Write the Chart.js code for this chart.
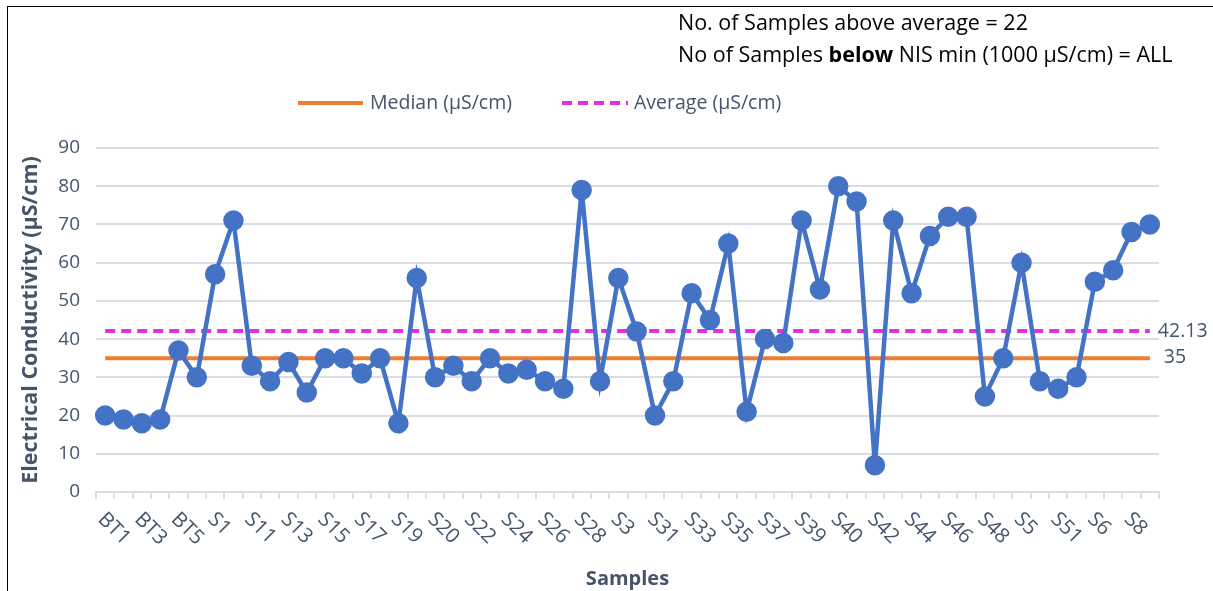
<!DOCTYPE html>
<html lang="en">
<head>
    <meta charset="UTF-8">
    <title>Electrical Conductivity</title>
    <script src="https://cdn.jsdelivr.net/npm/chart.js"></script>
    <style>
        html, body {
            margin: 0;
            padding: 0;
            background: #fff;
        }
        .frame {
            position: absolute;
            left: 7px;
            top: 6px;
            right: 0;
            bottom: 0;
            border-left: 1px solid #000;
            border-top: 1px solid #000;
        }
        .wrap {
            position: absolute;
            left: 0;
            top: 0;
            width: 1213px;
            height: 591px;
        }
    </style>
</head>
<body>
<div class="frame"></div>
<div class="wrap">
    <canvas id="ec-chart" width="1213" height="591"></canvas>
</div>

<script>
    const samples = [
        'BT1', 'BT2', 'BT3', 'BT4', 'BT5', 'BT6', 'S1', 'S10', 'S11', 'S12',
        'S13', 'S14', 'S15', 'S16', 'S17', 'S18', 'S19', 'S2', 'S20', 'S21',
        'S22', 'S23', 'S24', 'S25', 'S26', 'S27', 'S28', 'S29', 'S3', 'S30',
        'S31', 'S32', 'S33', 'S34', 'S35', 'S36', 'S37', 'S38', 'S39', 'S4',
        'S40', 'S41', 'S42', 'S43', 'S44', 'S45', 'S46', 'S47', 'S48', 'S49',
        'S5', 'S50', 'S51', 'S52', 'S6', 'S7', 'S8', 'S9'
    ];
    const conductivity = [
        20, 19, 18, 19, 37, 30, 57, 71, 33, 29,
        34, 26, 35, 35, 31, 35, 18, 56, 30, 33,
        29, 35, 31, 32, 29, 27, 79, 29, 56, 42,
        20, 29, 52, 45, 65, 21, 40, 39, 71, 53,
        80, 76, 7, 71, 52, 67, 72, 72, 25, 35,
        60, 29, 27, 30, 55, 58, 68, 70
    ];
    const median = 35;
    const average = 42.13;
    const yTicks = [0, 10, 20, 30, 40, 50, 60, 70, 80, 90];
    const noteLines = [
        ['No. of Samples above average = 22'],
        ['No of Samples ', 'below', ' NIS min (1000 µS/cm) = ALL']
    ];

    const FONT = '"Open Sans", "Noto Sans", sans-serif';
    const GREY = '#44546A';

    // x labels (every other one, rotated down-right), legend, notes, end labels
    const extras = {
        id: 'extras',
        afterDraw(chart) {
            const ctx = chart.ctx;
            const xs = chart.scales.x;
            const ys = chart.scales.y;
            ctx.save();

            ctx.fillStyle = GREY;
            ctx.font = '20.5px ' + FONT;
            ctx.textAlign = 'left';
            ctx.textBaseline = 'middle';
            samples.forEach((s, i) => {
                if (i % 2) return;
                const x = xs.getPixelForTick(i);
                ctx.save();
                ctx.translate(x - 4, xs.top + 24);
                ctx.rotate(Math.PI / 4);
                ctx.fillText(s, 0, 0);
                ctx.restore();
            });

            // end labels for reference lines
            const lastX = xs.getPixelForTick(samples.length - 1);
            ctx.font = '19.5px ' + FONT;
            ctx.fillText(average.toFixed(2), lastX + 8, ys.getPixelForValue(average));
            ctx.fillText(String(median), lastX + 14, ys.getPixelForValue(median) - 1);

            // legend
            const ly = 103;
            ctx.lineWidth = 4;
            ctx.strokeStyle = '#ED7D31';
            ctx.beginPath();
            ctx.moveTo(298, ly);
            ctx.lineTo(363, ly);
            ctx.stroke();
            ctx.fillText('Median (µS/cm)', 370, ly);
            ctx.strokeStyle = '#E22FE2';
            ctx.setLineDash([10, 6]);
            ctx.beginPath();
            ctx.moveTo(562, ly);
            ctx.lineTo(628, ly);
            ctx.stroke();
            ctx.setLineDash([]);
            ctx.fillText('Average (µS/cm)', 634, ly);

            // notes
            ctx.fillStyle = '#000';
            noteLines.forEach((parts, li) => {
                let x = 678;
                const y = 24 + li * 32;
                parts.forEach((p, pi) => {
                    ctx.font = (li === 1 && pi === 1 ? 'bold ' : '') + '21.5px ' + FONT;
                    ctx.fillText(p, x, y);
                    x += ctx.measureText(p).width;
                });
            });
            ctx.restore();
        }
    };

    const ctx = document.getElementById('ec-chart').getContext('2d');
    new Chart(ctx, {
        type: 'line',
        data: {
            labels: samples,
            datasets: [
                {
                    label: 'Electrical Conductivity (µS/cm)',
                    data: conductivity,
                    borderColor: '#4472C4',
                    backgroundColor: '#4472C4',
                    borderWidth: 4.5,
                    pointRadius: 8,
                    pointHoverRadius: 8,
                    tension: 0,
                    order: 0
                },
                {
                    label: 'Median (µS/cm)',
                    data: samples.map(() => median),
                    borderColor: '#ED7D31',
                    borderWidth: 4,
                    pointRadius: 0,
                    order: 2
                },
                {
                    label: 'Average (µS/cm)',
                    data: samples.map(() => average),
                    borderColor: '#E22FE2',
                    borderWidth: 4,
                    borderDash: [10, 6],
                    pointRadius: 0,
                    order: 1
                }
            ]
        },
        options: {
            responsive: false,
            animation: false,
            layout: { padding: { top: 148, right: 54, left: 0, bottom: 0 } },
            plugins: {
                legend: { display: false },
                tooltip: { enabled: false }
            },
            scales: {
                x: {
                    offset: true,
                    afterFit: s => { s.height = 99; },
                    grid: {
                        offset: true,
                        drawOnChartArea: false,
                        tickLength: 7,
                        tickColor: '#D9DDE6',
                        lineWidth: 2
                    },
                    border: { color: '#D9DDE6', width: 2 },
                    ticks: { display: false, autoSkip: false },
                    title: {
                        display: true,
                        text: 'Samples',
                        color: GREY,
                        font: { family: FONT, size: 20, weight: 'bold' },
                        padding: { top: 0, bottom: 0 }
                    }
                },
                y: {
                    min: 0,
                    max: 90,
                    afterFit: s => { s.width = 96; },
                    afterBuildTicks: s => { s.ticks = yTicks.map(v => ({ value: v })); },
                    grid: {
                        color: '#D9DDE6',
                        lineWidth: 2,
                        drawTicks: false
                    },
                    border: { display: false },
                    ticks: {
                        color: GREY,
                        padding: 16,
                        font: { family: FONT, size: 19 }
                    },
                    title: {
                        display: true,
                        text: 'Electrical Conductivity (µS/cm)',
                        color: GREY,
                        font: { family: FONT, size: 21.5, weight: 'bold' },
                        padding: { top: 18, bottom: 0 }
                    }
                }
            }
        },
        plugins: [extras]
    });
</script>
</body>
</html>
